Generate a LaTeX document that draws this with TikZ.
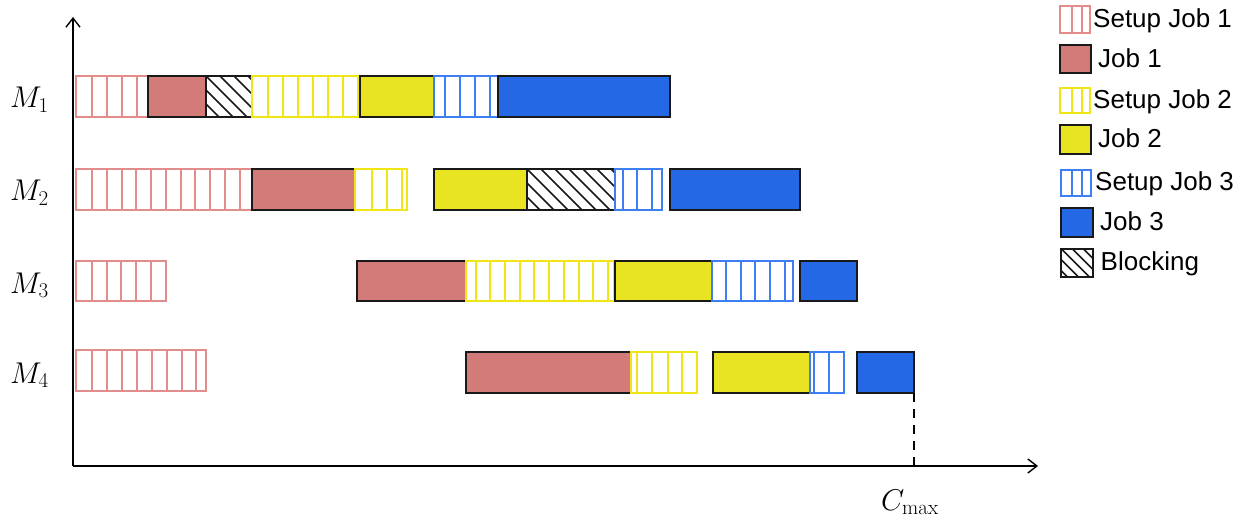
\RequirePackage{fix-cm}
\documentclass[tikz,border=0pt]{standalone}
\usepackage{fontspec}
\newfontfamily\legfont{Liberation Sans}
\usetikzlibrary{arrows.meta}
\definecolor{jobA}{HTML}{D27B79}
\definecolor{setA}{HTML}{E38C8C}
\definecolor{jobB}{HTML}{E9E422}
\definecolor{setB}{HTML}{F0E616}
\definecolor{jobC}{HTML}{2468E6}
\definecolor{setC}{HTML}{3D7EF2}
\newcommand\setupbx[6]{%
  \draw[setupline,draw=#1] (#2,#4) rectangle (#3,#5);
  \foreach \xx in {#6} \draw[setupline,draw=#1] (\xx,#4) -- (\xx,#5);}
\newcommand\jobbx[5]{\draw[jobbox,fill=#1] (#2,#4) rectangle (#3,#5);}
\newcommand\hatchbx[5]{%
  \begin{scope}
    \clip (#1,#3) rectangle (#2,#4);
    \foreach \k in {-6,...,9} \draw[hatchline] ({#1+\k*#5},#3) -- ++({#4-#3},{#4-#3});
  \end{scope}
  \draw[jobbox] (#1,#3) rectangle (#2,#4);}
\begin{document}
\begin{tikzpicture}[x=1pt,y=-1pt,
  setupline/.style={line width=2pt},
  jobbox/.style={draw=black!90,line width=2pt},
  hatchline/.style={draw=black!90,line width=1.5pt},
  axisline/.style={line width=1.6pt,-{Straight Barb[length=9pt,width=14pt,line width=1.4pt]}},
  mlabel/.style={anchor=base west,inner sep=0pt,font=\fontsize{30}{34}\selectfont},
  legtext/.style={anchor=base west,inner sep=0pt,font=\legfont\fontsize{26}{30}\selectfont}]
\useasboundingbox (0,0) rectangle (1253,517);
% axes
\coordinate (o) at (73,466);
\coordinate (ytip) at (73,17);
\coordinate (xtip) at (1038,466);
% M1
\setupbx{setA}{75.5}{148}{76}{117}{92,107,122,137}
\jobbx{jobA}{148}{206}{76}{117}
\hatchbx{206}{252}{76}{117}{14}
\setupbx{setB}{252}{358}{76}{117}{268,283,298,313,328,343}
\jobbx{jobB}{360}{434}{76}{117}
\setupbx{setC}{434}{498}{76}{117}{445,460,475,490}
\jobbx{jobC}{498}{670}{76}{117}
% M2
\setupbx{setA}{75.5}{252}{169}{210}{91.7,106.7,121.7,136.3,151,166,180.7,195.3,210,224.7,240}
\jobbx{jobA}{252}{355}{169}{210}
\setupbx{setB}{355}{407}{169}{210}{371.7,386.7,401.7}
\jobbx{jobB}{434}{527}{169}{210}
\hatchbx{527}{615}{169}{210}{14}
\setupbx{setC}{615}{662}{169}{210}{623.3,637.3,652.3}
\jobbx{jobC}{670}{800}{169}{210}
% M3
\setupbx{setA}{75.5}{166}{260.5}{300.5}{91.7,106.7,121.3,136.3,150.7}
\jobbx{jobA}{357}{466}{260.5}{300.5}
\setupbx{setB}{466}{614}{260.5}{300.5}{475.7,490,505,519.5,534.3,549.3,564,579,593.3,608.3}
\jobbx{jobB}{615}{712}{260.5}{300.5}
\setupbx{setC}{712}{793}{260.5}{300.5}{726,740.7,755.3,770,785}
\jobbx{jobC}{799.5}{857}{260.5}{300.5}
% M4
\setupbx{setA}{75.5}{206}{350}{391}{91.7,106.7,121.7,136.7,151.7,166.7,181.7,195.7}
\jobbx{jobA}{466}{631}{352}{393}
\setupbx{setB}{631}{697}{352}{393}{637.3,652.3,667.7,682.3}
\jobbx{jobB}{713}{810}{352}{393}
\setupbx{setC}{810}{844}{352}{393}{814,829.3}
\jobbx{jobC}{857}{914}{352}{393}
% axes
\draw[axisline] (o) -- (ytip);
\draw[axisline] (o) -- (xtip);
\coordinate (cmaxtop) at (914,393);
\coordinate (cmaxbot) at (914,466);
\draw[line width=1.5pt,dash pattern=on 9pt off 7pt] (cmaxtop) -- (cmaxbot);
% labels
\node[mlabel] (m1) at (10,107.5) {$M_1$};
\node[mlabel] (m2) at (10,200.5) {$M_2$};
\node[mlabel] (m3) at (10,293) {$M_3$};
\node[mlabel] (m4) at (10,383) {$M_4$};
\node[mlabel] (cmax) at (881,510) {$C_{\max}$};
% legend
\setupbx{setA}{1059.5}{1089.5}{6}{32.5}{1071.5,1081.5}
\node[legtext] (l1) at (1093,27.5) {Setup Job 1};
\jobbx{jobA}{1059.5}{1090.5}{44.5}{73}
\node[legtext] (l2) at (1098,67) {Job 1};
\setupbx{setB}{1059.5}{1089.5}{87.5}{113}{1071.5,1081.5}
\node[legtext] (l3) at (1093,108.5) {Setup Job 2};
\jobbx{jobB}{1059.5}{1091}{125}{154}
\node[legtext] (l4) at (1098,147) {Job 2};
\setupbx{setC}{1061}{1090.5}{169.5}{196}{1071.7,1081.7}
\node[legtext] (l5) at (1095,190) {Setup Job 3};
\jobbx{jobC}{1061}{1092.5}{207.5}{236.5}
\node[legtext] (l6) at (1100,230) {Job 3};
\hatchbx{1061}{1092.5}{248.5}{277}{11}
\node[legtext] (l7) at (1100.5,270.5) {Blocking};
\end{tikzpicture}
\end{document}
